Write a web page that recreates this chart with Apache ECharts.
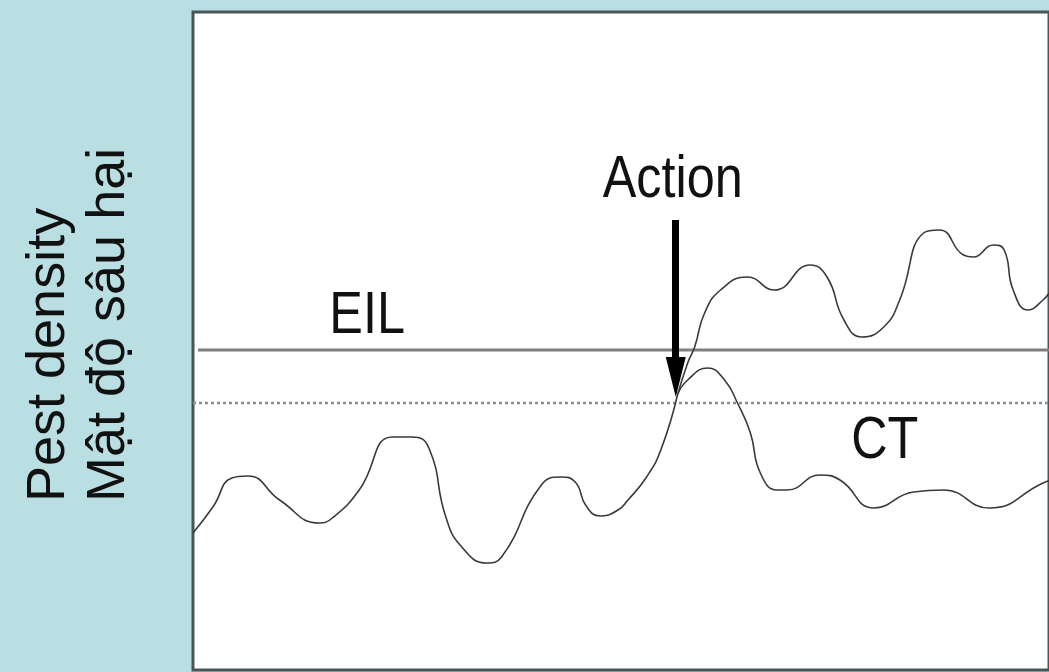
<!DOCTYPE html>
<html>
<head>
<meta charset="utf-8">
<style>
  html, body { margin: 0; padding: 0; background: #badfe2; }
  #chart { width: 1049px; height: 672px; }
</style>
<script src="https://cdn.jsdelivr.net/npm/echarts@6/dist/echarts.min.js"></script>
</head>
<body>
<div id="chart"></div>
<script>
// time (x) vs pest density (y)
const commonPath = [
  [0, 137], [20, 163], [39, 192], [55, 194], [87, 170], [127, 147], [140, 152],
  [167, 180], [200, 233], [220, 233], [237, 222], [254, 153], [270, 123],
  [295, 107], [310, 113], [350, 185], [370, 193], [384, 188], [395, 164],
  [409, 154], [427, 160], [437, 170], [455, 192], [470, 220], [487, 276]
];
// no action taken: density keeps rising
const untreatedPath = [
  [487, 276], [497, 307], [504, 323], [514, 357], [530, 380], [557, 393],
  [584, 380], [620, 405], [637, 393], [654, 350], [672, 333], [694, 343],
  [710, 370], [734, 437], [750, 440], [774, 415], [784, 413], [804, 425],
  [815, 420], [824, 380], [839, 360], [854, 370], [862, 380]
];
// action taken at CT: density drops
const treatedPath = [
  [487, 276], [497, 290], [517, 302], [534, 290], [547, 267], [560, 237],
  [570, 197], [587, 180], [597, 180], [630, 195], [650, 190], [684, 162],
  [724, 178], [754, 180], [800, 162], [854, 187], [862, 190]
];
const eilLevel = 320;
const ctLevel = 267;
const xRange = [0, 860];
const yRange = [0, 658];
const actionX = 485;
const arrowTop = 450;
const arrowEnd = 293;
const labelNames = ['EIL', 'Action', 'CT'];
const labelX = [175, 482, 695];
const labelY = [354, 490, 229];

const chart = echarts.init(document.getElementById('chart'));
const curveStyle = { color: '#3a3a3a', width: 1.6 };
const smoothness = 0.5;

chart.setOption({
  backgroundColor: '#badfe2',
  animation: false,
  grid: {
    left: 193, top: 12, width: 860, height: 658,
    show: true,
    backgroundColor: '#fff',
    borderColor: '#4a5555',
    borderWidth: 3
  },
  xAxis: {
    type: 'value', min: xRange[0], max: xRange[1],
    axisLine: { show: false }, axisTick: { show: false },
    axisLabel: { show: false }, splitLine: { show: false }
  },
  yAxis: {
    type: 'value', min: yRange[0], max: yRange[1],
    axisLine: { show: false }, axisTick: { show: false },
    axisLabel: { show: false }, splitLine: { show: false }
  },
  series: [
    {
      name: 'EIL', type: 'line', symbol: 'none',
      data: [[5, eilLevel], [xRange[1], eilLevel]],
      lineStyle: { color: '#7f7f7f', width: 3 }
    },
    {
      name: 'CT', type: 'line', symbol: 'none',
      data: [[xRange[0], ctLevel], [xRange[1], ctLevel]],
      lineStyle: { color: '#8c8c8c', width: 2.5, type: [3, 3] }
    },
    {
      name: 'common', type: 'line', symbol: 'none', smooth: smoothness,
      data: commonPath, lineStyle: curveStyle
    },
    {
      name: 'untreated', type: 'line', symbol: 'none', smooth: smoothness,
      data: untreatedPath, lineStyle: curveStyle
    },
    {
      name: 'treated', type: 'line', symbol: 'none', smooth: smoothness,
      data: treatedPath, lineStyle: curveStyle,
      markLine: {
        silent: true,
        symbol: ['none', 'triangle'],
        symbolSize: [20, 40],
        label: { show: false },
        lineStyle: { color: '#000', width: 7, type: 'solid' },
        data: [[{ coord: [actionX, arrowTop] }, { coord: [actionX, arrowEnd] }]]
      }
    }
  ]
});

// narrow-looking text labels, placed through the chart's own scales
const textGraphics = labelNames.map((name, i) => {
  const [px, py] = chart.convertToPixel({ gridIndex: 0 }, [labelX[i], labelY[i]]);
  return {
    type: 'text',
    x: px, y: py,
    scaleX: 0.84,
    style: {
      text: name,
      font: "60px 'Liberation Sans', Arial, sans-serif",
      fill: '#111',
      textAlign: 'center',
      textVerticalAlign: 'middle'
    }
  };
});

chart.setOption({
  graphic: [
    {
      type: 'text',
      x: 19, y: 502,
      rotation: Math.PI / 2,
      style: {
        text: 'Pest density\nMật độ sâu hại',
        font: "54px 'Liberation Sans', Arial, sans-serif",
        lineHeight: 60,
        fill: '#111',
        textAlign: 'left',
        textVerticalAlign: 'top'
      }
    }
  ].concat(textGraphics)
});
</script>
</body>
</html>
